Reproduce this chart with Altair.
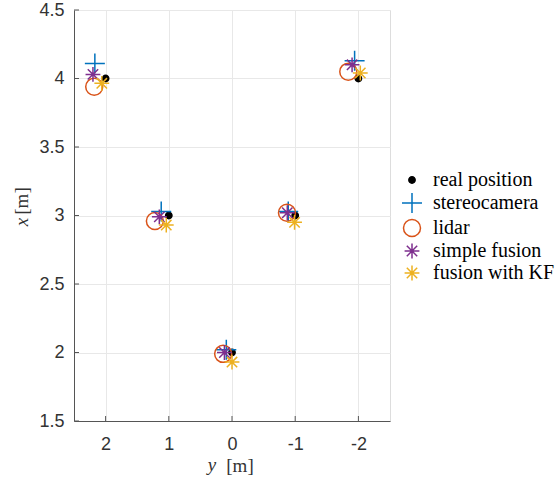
import altair as alt
import pandas as pd

series = ["real position", "stereocamera", "lidar", "simple fusion", "fusion with KF"]

real_y = [2, 1, 0, -1, -2]
real_x = [4, 3, 2, 3, 4]
stereo_y = [2.17, 1.12, 0.09, -0.89, -1.94]
stereo_x = [4.11, 3.03, 2.02, 3.03, 4.13]
lidar_y = [2.18, 1.22, 0.14, -0.87, -1.84]
lidar_x = [3.94, 2.96, 1.99, 3.02, 4.05]
simple_y = [2.20, 1.15, 0.12, -0.875, -1.90]
simple_x = [4.03, 2.99, 2.00, 3.02, 4.10]
kf_y = [2.06, 1.04, 0.00, -0.99, -2.03]
kf_x = [3.965, 2.93, 1.93, 2.95, 4.04]

x_ticks = [2, 1, 0, -1, -2]
y_ticks = [1.5, 2, 2.5, 3, 3.5, 4, 4.5]

ys = [real_y, stereo_y, lidar_y, simple_y, kf_y]
xs = [real_x, stereo_x, lidar_x, simple_x, kf_x]
rows = []
for s, yy, xx in zip(series, ys, xs):
    for a, b in zip(yy, xx):
        rows.append({"series": s, "y": a, "x": b})
df = pd.DataFrame(rows)

W, H = 316, 411
plus = "M-1,0L1,0M0,-1L0,1"
star = "M-1,0L1,0M0,-1L0,1M-0.7,-0.7L0.7,0.7M-0.7,0.7L0.7,-0.7"
colors = ["#000000", "#0072BD", "#D95319", "#7E2F8E", "#EDB120"]
fills = ["#000000", "transparent", "transparent", "transparent", "transparent"]
shapes = ["circle", plus, "circle", star, star]
sizes = [40, 400, 289, 220, 220]

leg = alt.Legend(title=None, orient="none", legendX=327, legendY=160,
                 labelFont="Liberation Serif", labelFontSize=20, labelColor="#000000",
                 rowPadding=0, symbolStrokeWidth=1.5, labelOffset=10)

xscale = alt.Scale(domain=[-2.5, 2.5], reverse=True, nice=False, zero=False)
yscale = alt.Scale(domain=[1.5, 4.5], nice=False, zero=False)

axis_common = dict(labelFont="Liberation Sans", labelFontSize=18, labelColor="#333333",
                   domainColor="#555555", gridColor="#e8e8e8", tickSize=0,
                   labelExpr="datum.value", title=None)

points = alt.Chart(df).mark_point(filled=False, strokeWidth=1.5, opacity=1).encode(
    x=alt.X("y:Q", scale=xscale, axis=alt.Axis(values=x_ticks, labelPadding=14, **axis_common)),
    y=alt.Y("x:Q", scale=yscale, axis=alt.Axis(values=y_ticks, labelPadding=10, **axis_common)),
    stroke=alt.Stroke("series:N", scale=alt.Scale(domain=series, range=colors), legend=leg),
    fill=alt.Fill("series:N", scale=alt.Scale(domain=series, range=fills), legend=leg),
    shape=alt.Shape("series:N", scale=alt.Scale(domain=series, range=shapes), legend=leg),
    size=alt.Size("series:N", scale=alt.Scale(type="ordinal", domain=series, range=sizes), legend=leg),
    order=alt.Order("ord:Q"),
).transform_calculate(ord="indexof(%s, datum.series)" % str(series))

xt = alt.Chart(pd.DataFrame({"v": x_ticks})).mark_rule(color="#555555", strokeWidth=1).encode(
    x=alt.X("v:Q", scale=xscale), y=alt.value(H), y2=alt.value(H - 5))
yt = alt.Chart(pd.DataFrame({"v": y_ticks})).mark_rule(color="#555555", strokeWidth=1).encode(
    y=alt.Y("v:Q", scale=yscale), x=alt.value(0), x2=alt.value(5))

def txt(t, px, py, italic, angle=0):
    return alt.Chart(pd.DataFrame({"t": [t]})).mark_text(
        font="Liberation Serif", fontSize=19, fontStyle="italic" if italic else "normal",
        color="#333333", align="center", baseline="middle", angle=angle
    ).encode(text="t:N", x=alt.value(px), y=alt.value(py))

titles = [
    txt("y", 138, 455, True),
    txt("[m]", 166, 456, False),
    txt("x", -52, 212, True, 270),
    txt("[m]", -52, 191, False, 270),
]

chart = alt.layer(xt, yt, points, *titles).properties(
    width=W, height=H,
    autosize=alt.AutoSizeParams(type="none"),
    padding={"left": 74, "top": 10, "right": 168, "bottom": 60},
).configure_view(stroke=None).configure(background="white")

chart.save("out.html", embed_options={"renderer": "svg", "actions": False})
